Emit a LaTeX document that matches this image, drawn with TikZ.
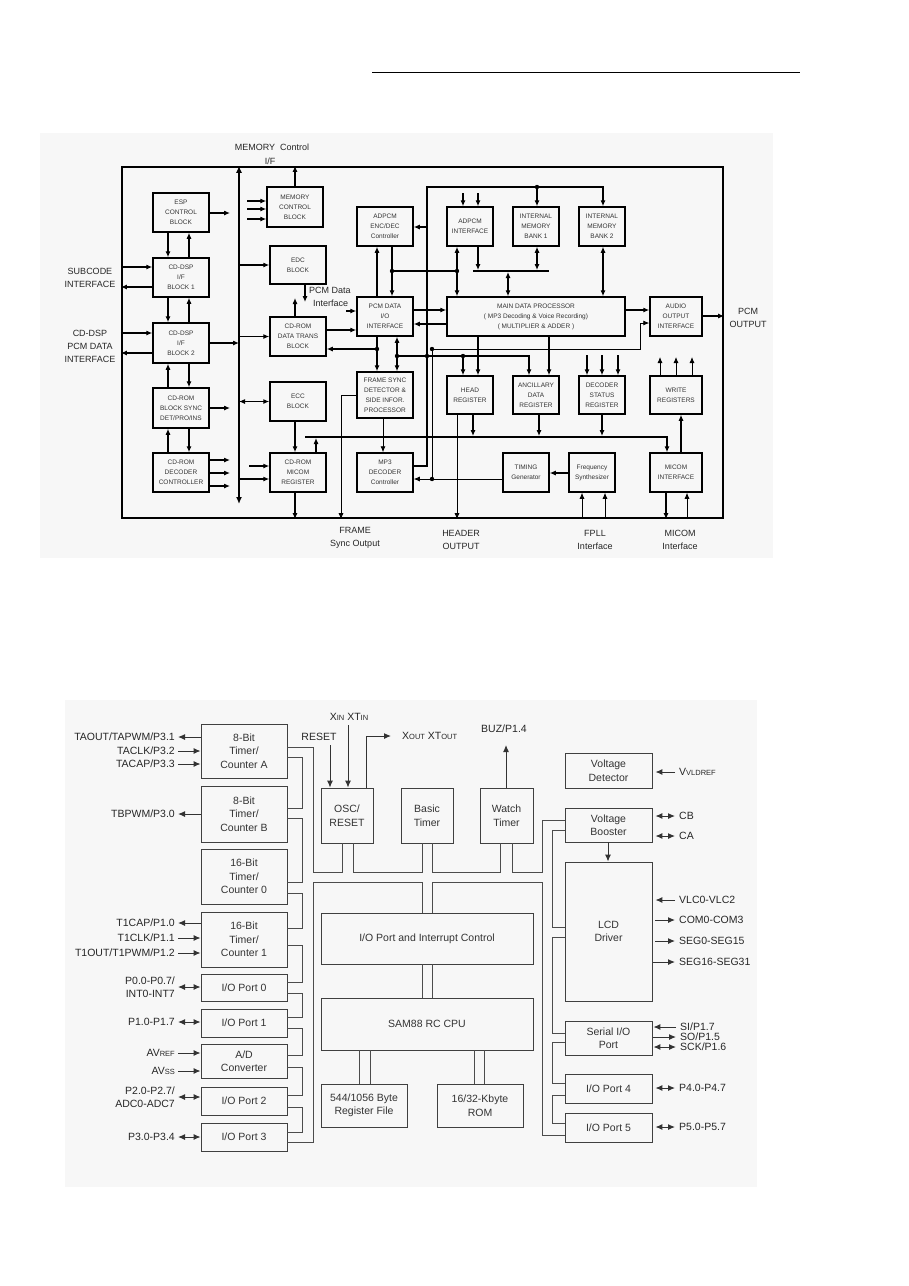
\documentclass[tikz,border=0pt]{standalone}
\usepackage{fontspec}
\setmainfont{Liberation Sans}
\usetikzlibrary{arrows.meta}
\begin{document}
\begin{tikzpicture}[x=1pt,y=-1pt,
  ar/.style={line width=1.1pt,-{Latex[length=6pt,width=5pt]}},
  ard/.style={line width=1.1pt,{Latex[length=6pt,width=5pt]}-{Latex[length=6pt,width=5pt]}},
  ln/.style={line width=1.1pt},
  tb/.style={draw,line width=1.5pt,align=center,inner sep=0pt,font=\fontsize{6.5}{10}\selectfont,text=black!80},
  tl/.style={font=\fontsize{9}{13}\selectfont,align=center,inner sep=0pt,text=black!85},
  bb/.style={draw=black!75,line width=0.9pt,align=center,inner sep=0pt,font=\fontsize{10.5}{13.5}\selectfont,text=black!80},
  bl/.style={font=\fontsize{10.5}{13}\selectfont,inner sep=0pt,text=black!85,align=right},
  pp/.style={draw=black!70,line width=0.9pt},
  ba/.style={line width=1pt,draw=black!80,-{Latex[length=7pt,width=6pt]}},
  bd/.style={line width=1pt,draw=black!80,{Latex[length=7pt,width=6pt]}-{Latex[length=7pt,width=6pt]}},
]
\useasboundingbox (0,0) rectangle (909,1286);
\fill[white] (0,0) rectangle (909,1286);
\draw[line width=1pt] (372,72) -- (800,72);
\fill[black!3] (40,133) rectangle (773,558);
\fill[black!3] (65,700) rectangle (757,1187);

%================ TOP DIAGRAM =================
\node[draw,line width=2.4pt,minimum width=601pt,minimum height=351pt,inner sep=0pt] (outer) at (422.5,342.5) {};
\coordinate (busT) at (239,0 |- outer.north);
\coordinate (busB) at (239,504);
\draw[line width=1.8pt,{Latex[length=7pt,width=6pt]}-{Latex[length=7pt,width=6pt]}] (busB) -- (busT);

\node[tb,minimum width=56pt,minimum height=39pt] (esp) at (181,212.5) {ESP\\CONTROL\\BLOCK};
\node[tb,minimum width=56pt,minimum height=39pt] (cd1) at (181,277.5) {CD-DSP\\I/F\\BLOCK 1};
\node[tb,minimum width=56pt,minimum height=40pt] (cd2) at (181,343) {CD-DSP\\I/F\\BLOCK 2};
\node[tb,minimum width=56pt,minimum height=40pt] (bsync) at (181,408) {CD-ROM\\BLOCK SYNC\\DET/PRO/INS};
\node[tb,minimum width=56pt,minimum height=39pt] (cdec) at (181,472.5) {CD-ROM\\DECODER\\CONTROLLER};
\node[tb,minimum width=56pt,minimum height=40pt] (mcb) at (295,207) {MEMORY\\CONTROL\\BLOCK};
\node[tb,minimum width=56pt,minimum height=38pt] (edc) at (298,265) {EDC\\BLOCK};
\node[tb,minimum width=56pt,minimum height=39pt] (dtr) at (298,336.5) {CD-ROM\\DATA TRANS\\BLOCK};
\node[tb,minimum width=56pt,minimum height=39pt] (ecc) at (298,401.5) {ECC\\BLOCK};
\node[tb,minimum width=56pt,minimum height=39pt] (mreg) at (298,472.5) {CD-ROM\\MICOM\\REGISTER};
\node[tb,minimum width=56pt,minimum height=39pt] (aenc) at (385,226.5) {ADPCM\\ENC/DEC\\Controller};
\node[tb,minimum width=56pt,minimum height=39pt] (pcmio) at (385,316.5) {PCM DATA\\I/O\\INTERFACE};
\node[tb,minimum width=56pt,minimum height=46pt] (fsync) at (385,395) {FRAME SYNC\\DETECTOR \&\\SIDE INFOR.\\PROCESSOR};
\node[tb,minimum width=56pt,minimum height=39pt] (mp3) at (385,472.5) {MP3\\DECODER\\Controller};
\node[tb,minimum width=46pt,minimum height=39pt] (aif) at (470,226.5) {ADPCM\\INTERFACE};
\node[tb,minimum width=46pt,minimum height=39pt] (bk1) at (536,226.5) {INTERNAL\\MEMORY\\BANK 1};
\node[tb,minimum width=46pt,minimum height=39pt] (bk2) at (602,226.5) {INTERNAL\\MEMORY\\BANK 2};
\node[tb,minimum width=178pt,minimum height=39pt] (mdp) at (536,316.5) {MAIN DATA PROCESSOR\\( MP3 Decoding \& Voice Recording)\\( MULTIPLIER \& ADDER )};
\node[tb,minimum width=46pt,minimum height=38pt] (head) at (470,395) {HEAD\\REGISTER};
\node[tb,minimum width=46pt,minimum height=38pt] (anc) at (536,395) {ANCILLARY\\DATA\\REGISTER};
\node[tb,minimum width=46pt,minimum height=38pt] (dst) at (602,395) {DECODER\\STATUS\\REGISTER};
\node[tb,minimum width=46pt,minimum height=39pt] (tim) at (526,472.5) {TIMING\\Generator};
\node[tb,minimum width=46pt,minimum height=39pt] (frq) at (592,472.5) {Frequency\\Synthesizer};
\node[tb,minimum width=52pt,minimum height=39pt] (aud) at (676,316.5) {AUDIO\\OUTPUT\\INTERFACE};
\node[tb,minimum width=52pt,minimum height=38pt] (wr) at (676,395) {WRITE\\REGISTERS};
\node[tb,minimum width=52pt,minimum height=39pt] (mif) at (676,472.5) {MICOM\\INTERFACE};

% labels
\node[tl] (lmem) at (272,147) {MEMORY\ \ Control};
\node[tl] (lif) at (270,161) {I/F};
\node[tl] (lsub) at (90,278) {SUBCODE\\INTERFACE};
\node[tl] (lcdd) at (90,346) {CD-DSP\\PCM DATA\\INTERFACE};
\node[tl,anchor=west] (lpd1) at (309,290) {PCM Data};
\node[tl,anchor=west] (lpd2) at (313,303) {Interface};
\node[tl] (lpcmo) at (748,317.5) {PCM\\OUTPUT};
\node[tl] (lfr) at (355,537.5) {FRAME\\Sync Output};
\node[tl] (lhd) at (461,540) {HEADER\\OUTPUT};
\node[tl] (lfp) at (595,540) {FPLL\\Interface};
\node[tl] (lmi) at (680,540) {MICOM\\Interface};

% connectors
\draw[ar] (mcb.north) -- (295,0 |- outer.north);
\foreach \y [count=\i] in {201,209,219} {\coordinate (mi\i) at (247,\y); \draw[ar] (mi\i) -- (mcb.west |- mi\i);}
\coordinate (espo) at (230,213); \draw[ar] (esp.east |- espo) -- (espo);
\draw[ar] (168,0 |- esp.south) -- (168,0 |- cd1.north);
\draw[ar] (189,0 |- cd1.north) -- (189,0 |- esp.south);
\draw[ar] (168,0 |- cd1.south) -- (168,0 |- cd2.north);
\draw[ar] (189,0 |- cd2.north) -- (189,0 |- cd1.south);
\draw[ar] (168,0 |- bsync.north) -- (168,0 |- cd2.south);
\draw[ar] (189,0 |- cd2.south) -- (189,0 |- bsync.north);
\draw[ar] (168,0 |- cdec.north) -- (168,0 |- bsync.south);
\draw[ar] (189,0 |- bsync.south) -- (189,0 |- cdec.north);
\path (122,267) coordinate (li1) (122,287) coordinate (lo1) (122,333) coordinate (li2) (122,353) coordinate (lo2);
\draw[ar] (outer.west |- li1) -- (cd1.west |- li1);
\draw[ar] (cd1.west |- lo1) -- (outer.west |- lo1);
\draw[ar] (outer.west |- li2) -- (cd2.west |- li2);
\draw[ar] (cd2.west |- lo2) -- (outer.west |- lo2);
\draw[ar] (cd2.east) -- (busT |- cd2.east);
\coordinate (bso) at (230,408); \draw[ar] (bsync.east |- bso) -- (bso);
\foreach \y [count=\i] in {460,473,486} {\coordinate (dco\i) at (230,\y); \draw[ar] (cdec.east |- dco\i) -- (dco\i);}
\draw[ar] (busT |- edc.west) -- (edc.west);
\draw[ar] (busT |- dtr.west) -- (dtr.west);
\draw[ard] (busT |- ecc.west) -- (ecc.west);
\draw[ar] (busT |- 0,479) -- (mreg.west |- 0,479);
\coordinate (mri) at (249,466); \draw[ar] (mri) -- (mreg.west |- mri);
\coordinate (edo) at (305,302); \draw[ar] (edc.south -| edo) -- (edo);
\coordinate (dto) at (295,298); \draw[ar] (dtr.north -| dto) -- (dto);
\draw[ar] (dtr.east |- 0,330) -- (pcmio.west |- 0,330);
\coordinate (pdi) at (346,311); \draw[ar] (pdi) -- (pcmio.west |- pdi);
\draw[ar] (377,0 |- pcmio.south) -- (377,0 |- fsync.north);
\coordinate (j1) at (377,349); \draw[ar] (j1) -- (dtr.east |- j1);
\draw[ard] (397,0 |- fsync.north) -- (397,0 |- pcmio.south);
\coordinate (j2) at (397,356); \coordinate (j3) at (427,356); \coordinate (j4) at (463,356);
\draw[ar] (j2) -- (529,356) -- (529,0 |- anc.north);
\draw[ar] (j4) -- (j4 |- head.north);
\draw[ar] (377,0 |- pcmio.north) -- (377,0 |- aenc.south);
\draw[ar] (392,0 |- aenc.south) -- (392,0 |- pcmio.north);
\coordinate (j5) at (392,271); \coordinate (j6) at (457,271);
\draw[ln] (j5) -- (j6);
\draw[ard] (457,0 |- aif.south) -- (457,0 |- mdp.north);
\foreach \x [count=\i] in {463,478} {\coordinate (ai\i) at (\x,193); \draw[ar] (ai\i) -- (ai\i |- aif.north);}
\coordinate (sbL) at (473,271); \coordinate (sbR) at (549,271);
\draw[ln] (sbL) -- (sbR);
\draw[ar] (478,0 |- aif.south) -- (478,270);
\draw[ard] (537,0 |- bk1.south) -- (537,270);
\draw[ard] (508,272) -- (508,0 |- mdp.north);
\draw[ard] (603,0 |- bk2.south) -- (603,0 |- mdp.north);
\coordinate (tl1) at (427,187); \coordinate (j7) at (537,187); \coordinate (j8) at (427,227);
\draw[ar] (mp3.east |- 0,466) -- (427,466) -- (tl1) -- (603,187) -- (603,0 |- bk2.north);
\draw[ar] (j7) -- (j7 |- bk1.north);
\draw[ar] (j8) -- (aenc.east |- j8);
\draw[ar] (pcmio.east |- 0,310) -- (mdp.west |- 0,310);
\draw[ar] (mdp.west |- 0,324) -- (pcmio.east |- 0,324);
\draw[ar] (mdp.east |- 0,310) -- (aud.west |- 0,310);
\draw[ar] (aud.east |- 0,316) -- (outer.east |- 0,316);
\coordinate (j9) at (432,349); \coordinate (j10) at (432,479);
\draw[ar,line width=0.8pt] (j9) -- (640,349) -- (640,323) -- (aud.west |- 0,323);
\draw[line width=0.8pt] (j9) -- (j10);
\draw[ar,line width=0.8pt] (tim.west |- j10) -- (mp3.east |- j10);
\draw[ar] (478,0 |- mdp.south) -- (478,0 |- head.north);
\draw[ar] (549,0 |- mdp.south) -- (549,0 |- anc.north);
\foreach \x [count=\i] in {587,602,618} {\coordinate (ds\i) at (\x,355); \draw[ar] (ds\i) -- (ds\i |- dst.north);}
\coordinate (hb1) at (305,437); \coordinate (hb2) at (667,437);
\draw[ar] (hb1) -- (hb2) -- (hb2 |- mif.north);
\draw[ar] (473,0 |- head.south) -- (473,436);
\draw[ar] (539,0 |- anc.south) -- (539,436);
\draw[ar] (602,0 |- dst.south) -- (602,436);
\draw[ar] (316,0 |- mreg.north) -- (316,438);
\draw[ar] (295,0 |- ecc.south) -- (295,0 |- mreg.north);
\draw[ar] (295,0 |- mreg.south) -- (295,0 |- outer.south);
\draw[ar,line width=0.8pt] (fsync.west |- 0,395) -- (341,395) -- (341,0 |- outer.south);
\draw[ar,line width=0.8pt] (383,0 |- fsync.south) -- (383,0 |- mp3.north);
\draw[ar,line width=0.8pt] (457,0 |- head.south) -- (457,0 |- outer.south);
\draw[ar] (frq.west |- 0,473) -- (tim.east |- 0,473);
\draw[ar,line width=0.8pt] (582,0 |- outer.south) -- (582,0 |- frq.south);
\draw[ar,line width=0.8pt] (605,0 |- outer.south) -- (605,0 |- frq.south);
\draw[ar] (666,0 |- mif.south) -- (666,0 |- outer.south);
\draw[ar,line width=0.8pt] (687,0 |- outer.south) -- (687,0 |- mif.south);
\draw[ar] (681,0 |- mif.north) -- (681,0 |- wr.south);
\foreach \x [count=\i] in {660,676,692} {\coordinate (wo\i) at (\x,357); \draw[ar,line width=0.8pt] (wo\i |- wr.north) -- (wo\i);}
\foreach \j in {j1,j2,j3,j4,j5,j6,j7,j9,j10} {\fill (\j) circle (2.2pt);}

%================ BOTTOM DIAGRAM =================
\node[bb,minimum width=86pt,minimum height=54pt] (ta) at (244,751) {8-Bit\\Timer/\\Counter A};
\node[bb,minimum width=86pt,minimum height=56pt] (tb) at (244,814) {8-Bit\\Timer/\\Counter B};
\node[bb,minimum width=86pt,minimum height=55pt] (t0) at (244,876.5) {16-Bit\\Timer/\\Counter 0};
\node[bb,minimum width=86pt,minimum height=55pt] (t1) at (244,939.5) {16-Bit\\Timer/\\Counter 1};
\node[bb,minimum width=86pt,minimum height=27pt] (p0) at (244,987.5) {I/O Port 0};
\node[bb,minimum width=86pt,minimum height=28pt] (p1) at (244,1023) {I/O Port 1};
\node[bb,minimum width=86pt,minimum height=34pt] (adc) at (244,1061) {A/D\\Converter};
\node[bb,minimum width=86pt,minimum height=28pt] (p2) at (244,1101) {I/O Port 2};
\node[bb,minimum width=86pt,minimum height=28pt] (p3) at (244,1137) {I/O Port 3};
\node[bb,minimum width=52pt,minimum height=55pt] (osc) at (347,815.5) {OSC/\\RESET};
\node[bb,minimum width=52pt,minimum height=55pt] (bas) at (427,815.5) {Basic\\Timer};
\node[bb,minimum width=53pt,minimum height=55pt] (wat) at (506.5,815.5) {Watch\\Timer};
\node[bb,minimum width=212pt,minimum height=51pt] (ioc) at (427,938.5) {I/O Port and Interrupt Control};
\node[bb,minimum width=212pt,minimum height=52pt] (cpu) at (427,1024) {SAM88 RC CPU};
\node[bb,minimum width=86pt,minimum height=43pt] (reg) at (364,1105.5) {544/1056 Byte\\Register File};
\node[bb,minimum width=86pt,minimum height=43pt] (rom) at (480,1105.5) {16/32-Kbyte\\ROM};
\node[bb,minimum width=87pt,minimum height=35pt] (vdet) at (608.5,770.5) {Voltage\\Detector};
\node[bb,minimum width=87pt,minimum height=34pt] (vbo) at (608.5,825) {Voltage\\Booster};
\node[bb,minimum width=87pt,minimum height=139pt] (lcd) at (608.5,931.5) {LCD\\Driver};
\node[bb,minimum width=87pt,minimum height=34pt] (sio) at (608.5,1038) {Serial I/O\\Port};
\node[bb,minimum width=87pt,minimum height=29pt] (p4) at (608.5,1088.5) {I/O Port 4};
\node[bb,minimum width=87pt,minimum height=29pt] (p5) at (608.5,1127.5) {I/O Port 5};

% bus pipes
\draw[pp] (ta.east |- 0,747) -- (313,747) -- (313,872) -- (342,872) -- (342,0 |- osc.south);
\draw[pp] (353,0 |- osc.south) -- (353,872) -- (422,872) -- (422,0 |- bas.south);
\draw[pp] (432,0 |- bas.south) -- (432,872) -- (500,872) -- (500,0 |- wat.south);
\draw[pp] (512,0 |- wat.south) -- (512,872) -- (542,872) -- (542,820) -- (vbo.west |- 0,820);
\draw[pp] (p3.east |- 0,1142) -- (313,1142) -- (313,882) -- (422,882) -- (422,0 |- ioc.north);
\draw[pp] (432,0 |- ioc.north) -- (432,882) -- (542,882) -- (542,1135) -- (p5.west |- 0,1135);
\foreach \a/\b/\ya/\yb in {ta/tb/757/808,tb/t0/818/882,t0/t1/893/928,t1/p0/945/982,p0/p1/993/1017,p1/adc/1028/1055,adc/p2/1067/1095,p2/p3/1107/1132}
  {\draw[pp] (\a.east |- 0,\ya) -- (302,\ya) -- (302,\yb) -- (\b.east |- 0,\yb);}
\foreach \a/\b/\ya/\yb in {vbo/lcd/830/927,lcd/sio/937/1033,sio/p4/1042/1083,p4/p5/1095/1123}
  {\draw[pp] (\a.west |- 0,\ya) -- (552,\ya) -- (552,\yb) -- (\b.west |- 0,\yb);}
\foreach \x in {422,432} {\draw[pp] (\x,0 |- ioc.south) -- (\x,0 |- cpu.north);}
\foreach \x in {359,370} {\draw[pp] (\x,0 |- cpu.south) -- (\x,0 |- reg.north);}
\foreach \x in {474,484} {\draw[pp] (\x,0 |- cpu.south) -- (\x,0 |- rom.north);}

% left labels
\newcommand\sm[1]{{\fontsize{7.5}{9}\selectfont #1}}
\node[bl,anchor=east] (la1) at (175,737) {TAOUT/TAPWM/P3.1};
\node[bl,anchor=east] (la2) at (175,751) {TACLK/P3.2};
\node[bl,anchor=east] (la3) at (175,764) {TACAP/P3.3};
\node[bl,anchor=east] (lb1) at (175,814) {TBPWM/P3.0};
\node[bl,anchor=east] (lc1) at (175,923) {T1CAP/P1.0};
\node[bl,anchor=east] (lc2) at (175,938) {T1CLK/P1.1};
\node[bl,anchor=east] (lc3) at (175,953) {T1OUT/T1PWM/P1.2};
\node[bl,anchor=east] (ld0) at (175,987) {P0.0-P0.7/\\INT0-INT7};
\node[bl,anchor=east] (ld1) at (175,1022) {P1.0-P1.7};
\node[bl,anchor=east] (le1) at (175,1053) {AV\sm{REF}};
\node[bl,anchor=east] (le2) at (175,1071) {AV\sm{SS}};
\node[bl,anchor=east] (ld2) at (175,1097) {P2.0-P2.7/\\ADC0-ADC7};
\node[bl,anchor=east] (ld3) at (175,1137) {P3.0-P3.4};
\draw[ba] (ta.west |- la1.east) -- ([xshift=3pt]la1.east);
\draw[ba] ([xshift=3pt]la2.east) -- (ta.west |- la2.east);
\draw[ba] ([xshift=3pt]la3.east) -- (ta.west |- la3.east);
\draw[ba] (tb.west |- lb1.east) -- ([xshift=3pt]lb1.east);
\draw[ba] (t1.west |- lc1.east) -- ([xshift=3pt]lc1.east);
\draw[ba] ([xshift=3pt]lc2.east) -- (t1.west |- lc2.east);
\draw[ba] ([xshift=3pt]lc3.east) -- (t1.west |- lc3.east);
\draw[bd] ([xshift=3pt]ld0.east) -- (p0.west |- ld0.east);
\draw[bd] ([xshift=3pt]ld1.east) -- (p1.west |- ld1.east);
\draw[ba] ([xshift=3pt]le1.east) -- (adc.west |- le1.east);
\draw[ba] ([xshift=3pt]le2.east) -- (adc.west |- le2.east);
\draw[bd] ([xshift=3pt]ld2.east) -- (p2.west |- ld2.east);
\draw[bd] ([xshift=3pt]ld3.east) -- (p3.west |- ld3.east);

% top labels
\node[bl] (lrs) at (319,737) {RESET};
\node[bl] (lxi) at (349,717) {X\sm{IN} XT\sm{IN}};
\node[bl,anchor=west] (lxo) at (402,736) {X\sm{OUT} XT\sm{OUT}};
\node[bl] (lbz) at (504,729) {BUZ/P1.4};
\coordinate (rs) at (330,745); \draw[ba] (rs) -- (rs |- osc.north);
\coordinate (xi) at (348,725); \draw[ba] (xi) -- (xi |- osc.north);
\draw[ba] (366,0 |- osc.north) -- (366,736) -- ([xshift=-11pt]lxo.west);
\coordinate (bz) at (506,745); \draw[ba] (bz |- wat.north) -- (bz);
\draw[ba] (608,0 |- vbo.south) -- (608,0 |- lcd.north);

% right labels
\node[bl,anchor=west] (r1) at (679,772) {V\sm{VLDREF}};
\node[bl,anchor=west] (r2) at (679,816) {CB};
\node[bl,anchor=west] (r3) at (679,836) {CA};
\node[bl,anchor=west] (r4) at (679,900) {VLC0-VLC2};
\node[bl,anchor=west] (r5) at (679,920) {COM0-COM3};
\node[bl,anchor=west] (r6) at (679,941) {SEG0-SEG15};
\node[bl,anchor=west] (r7) at (679,962) {SEG16-SEG31};
\node[bl,anchor=west] (r8) at (680,1027) {SI/P1.7};
\node[bl,anchor=west] (r9) at (680,1037) {SO/P1.5};
\node[bl,anchor=west] (r10) at (680,1047) {SCK/P1.6};
\node[bl,anchor=west] (r11) at (679,1088) {P4.0-P4.7};
\node[bl,anchor=west] (r12) at (679,1127) {P5.0-P5.7};
\draw[ba] ([xshift=-4pt]r1.west) -- ([xshift=3pt]vdet.east |- r1.west);
\draw[bd] ([xshift=-4pt]r2.west) -- ([xshift=3pt]vbo.east |- r2.west);
\draw[bd] ([xshift=-4pt]r3.west) -- ([xshift=3pt]vbo.east |- r3.west);
\draw[ba] ([xshift=-4pt]r4.west) -- ([xshift=3pt]lcd.east |- r4.west);
\draw[ba] ([xshift=3pt]lcd.east |- r5.west) -- ([xshift=-4pt]r5.west);
\draw[ba] ([xshift=3pt]lcd.east |- r6.west) -- ([xshift=-4pt]r6.west);
\draw[ba] ([xshift=1pt]lcd.east |- r7.west) -- ([xshift=-4pt]r7.west);
\draw[ba] ([xshift=-4pt]r8.west) -- ([xshift=1pt]sio.east |- r8.west);
\draw[ba] ([xshift=1pt]sio.east |- r9.west) -- ([xshift=-4pt]r9.west);
\draw[bd] ([xshift=-4pt]r10.west) -- ([xshift=1pt]sio.east |- r10.west);
\draw[bd] ([xshift=-4pt]r11.west) -- ([xshift=3pt]p4.east |- r11.west);
\draw[bd] ([xshift=-4pt]r12.west) -- ([xshift=3pt]p5.east |- r12.west);
\end{tikzpicture}
\end{document}
